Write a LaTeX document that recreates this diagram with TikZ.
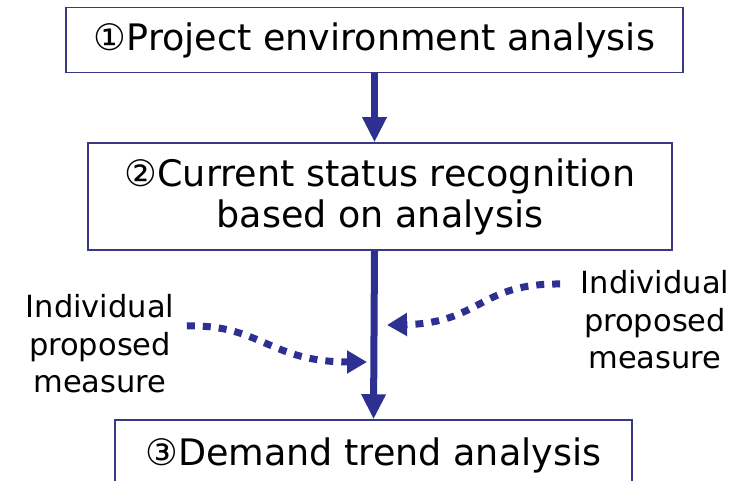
\documentclass[tikz,border=0pt]{standalone}
\usepackage{fontspec}
\setmainfont{DejaVu Sans}
\usepackage{tikz}
\usetikzlibrary{arrows.meta}
\definecolor{navy}{rgb}{0.18, 0.19, 0.57}
\definecolor{frame}{rgb}{0.22, 0.22, 0.52}

\begin{document}
\begin{tikzpicture}[x=1pt,y=-1pt,
    stage/.style={draw=frame, line width=1.5pt, fill=white, inner sep=0pt, align=center,
      font=\fontsize{36.5}{41}\selectfont},
    note/.style={align=center, font=\fontsize{30.5}{37.5}\selectfont},
    flow/.style={navy, line width=7pt, -{Triangle[width=23pt,length=25pt]}},
    hint/.style={navy, line width=7pt, dash pattern=on 8pt off 8pt,
      -{Triangle[width=22pt,length=20pt]}}]
      \useasboundingbox (0,0) rectangle (746,481);
      \node[stage, minimum width=617pt, minimum height=65pt] (box1) at (374.5,40) {①Project environment analysis};
      \node[stage, minimum width=584pt, minimum height=107pt] (box2) at (380,196.5) {②Current status recognition\\based on analysis};
      \node[stage, minimum width=517pt, minimum height=70pt] (box3) at (373.5,455) {③Demand trend analysis};
      \node[note] (leftnote) at (100,344) {Individual\\proposed\\measure};
      \node[note] (rightnote) at (655,320) {Individual\\proposed\\measure};
      \draw[flow] (box1.south) -- (box1.south |- box2.north);
      \draw[flow] (box1.south |- box2.south) -- (box3.north);
      \coordinate (lefttip) at (367,362);
      \coordinate (righttip) at (387,325);
      \draw[hint] ([shift={(9,-18)}]leftnote.east) .. controls (260,324) and (270,362) .. (lefttip);
      \draw[hint] ([shift={(-17,-36)}]rightnote.west) .. controls (480,283) and (480,323) .. (righttip);
\end{tikzpicture}
\end{document}
